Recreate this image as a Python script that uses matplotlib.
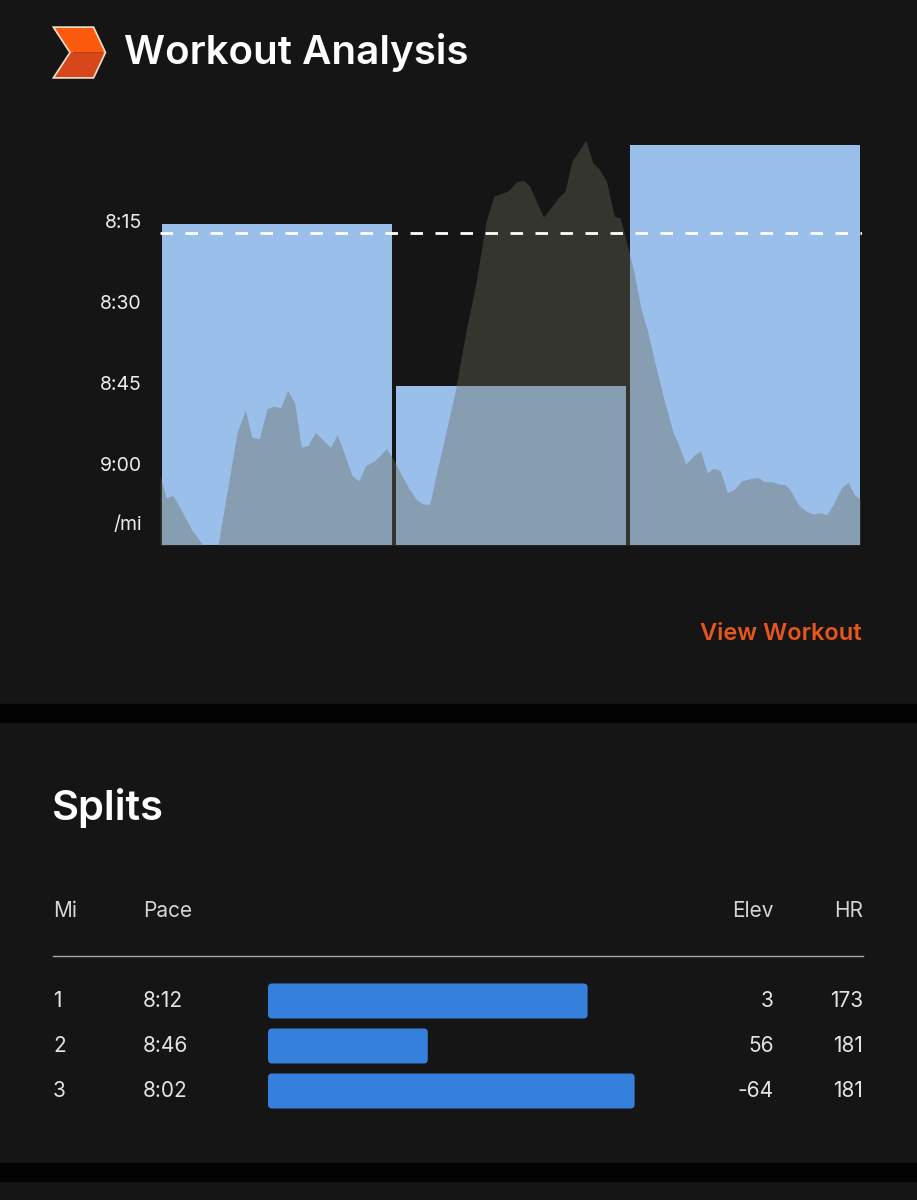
import matplotlib.pyplot as plt
from matplotlib.patches import Polygon, Rectangle, FancyBboxPatch

plt.rcParams['font.family'] = ['Inter', 'DejaVu Sans']

# Datos del gráfico
miles = [1, 2, 3]
chart_pace = [495.6, 525.5, 481]          # segundos por milla (barras del gráfico)
avg_pace = 497.3                           # línea discontinua
pace_ticks = [495, 510, 525, 540]
pace_labels = ["8:15", "8:30", "8:45", "9:00"]

# Perfil de elevación (millas, pies relativos)
elev_dist = [0.0, 0.026, 0.055, 0.085, 0.134, 0.183, 0.248, 0.281, 0.330, 0.365,
             0.392, 0.424, 0.457, 0.487, 0.516, 0.545, 0.575, 0.604, 0.634, 0.663,
             0.692, 0.728, 0.757, 0.791, 0.820, 0.849, 0.879, 0.918, 0.967, 0.996,
             1.026, 1.065, 1.094, 1.124, 1.153, 1.182, 1.222, 1.261, 1.310, 1.349,
             1.394, 1.427, 1.486, 1.525, 1.555, 1.580, 1.614, 1.639, 1.672, 1.702,
             1.731, 1.761, 1.790, 1.820, 1.849, 1.878, 1.908, 1.941, 1.967, 1.996,
             2.025, 2.055, 2.084, 2.114, 2.153, 2.192, 2.212, 2.247, 2.280, 2.310,
             2.339, 2.365, 2.394, 2.424, 2.451, 2.486, 2.525, 2.555, 2.584, 2.614,
             2.643, 2.672, 2.692, 2.731, 2.761, 2.790, 2.819, 2.849, 2.878, 2.913,
             2.941, 2.966, 2.992]
elev_ft = [18.2, 12.4, 12.9, 9.8, 4.1, 0.0, 0.0, 12.0, 29.6, 35.3,
           28.2, 27.8, 35.7, 36.4, 35.9, 40.5, 37.3, 25.6, 26.1, 29.6,
           27.8, 25.6, 28.9, 23.4, 18.2, 16.8, 20.8, 22.1, 25.2, 22.6,
           19.0, 14.7, 12.0, 10.7, 10.7, 19.0, 29.6, 40.1, 56.8, 68.2,
           84.8, 91.4, 92.7, 95.2, 95.5, 94.0, 89.2, 85.9, 88.5, 91.0,
           92.7, 100.6, 103.2, 106.1, 100.2, 98.4, 95.3, 86.1, 85.7, 78.7,
           71.7, 62.0, 55.9, 48.0, 38.3, 29.6, 26.9, 21.2, 23.4, 24.7,
           18.9, 20.1, 19.5, 13.8, 14.4, 16.8, 17.4, 17.7, 16.6, 16.6,
           16.0, 15.8, 14.5, 10.3, 8.9, 8.1, 8.5, 7.9, 10.7, 15.1,
           16.4, 13.3, 12.0]

# Tabla de splits
split_pace = ["8:12", "8:46", "8:02"]
split_pace_sec = [492, 526, 482]
split_elev = [3, 56, -64]
split_hr = [173, 181, 181]
pace_ref = 560   # 9:20, donde la barra tendría longitud cero

BG = "#151515"
W, H = 917, 1200


def fx(px):
    return px / W


def fy(py):
    return 1 - py / H


fig = plt.figure(figsize=(9.17, 12), dpi=100, facecolor=BG)

# Bandas negras separadoras
for top, bot in [(704, 722), (1163, 1181)]:
    fig.patches.append(Rectangle((0, fy(bot)), 1, (bot - top) / H,
                                 transform=fig.transFigure, color="#030303", zorder=0))

# Logo
top_half = [(55, 28), (93, 28), (104.5, 52.5), (71, 52.5)]
bot_half = [(71, 52.5), (104.5, 52.5), (93, 77), (55, 77)]
outline = [(55, 28), (93, 28), (104.5, 52.5), (93, 77), (55, 77), (71, 52.5)]
fig.patches.append(Polygon([(fx(x), fy(y)) for x, y in outline], closed=True,
                           transform=fig.transFigure, facecolor="none",
                           edgecolor="#f6dcc8", lw=2.5, joinstyle="miter"))
fig.patches.append(Polygon([(fx(x), fy(y)) for x, y in top_half], closed=True,
                           transform=fig.transFigure, color="#fc5a0c", lw=0))
fig.patches.append(Polygon([(fx(x), fy(y)) for x, y in bot_half], closed=True,
                           transform=fig.transFigure, color="#d8471c", lw=0))

fig.text(fx(124), fy(53), "Workout Analysis", color="white", fontsize=29,
         fontweight="semibold", va="center", ha="left")

# Gráfico principal
ax = fig.add_axes([fx(160), fy(545), 702 / W, 405 / H])
ax.set_facecolor(BG)
ax.bar([m - 0.5 for m in miles], [555 - p for p in chart_pace], bottom=chart_pace,
       width=0.98, color="#9abfea", zorder=1)
ax.set_xlim(0, 3.0)
ax.set_ylim(555, 480)
ax.set_yticks(pace_ticks + [551])
ax.set_yticklabels(pace_labels + ["/mi"])
ax.tick_params(axis="y", length=0, pad=13, labelsize=14, labelcolor="#ececec")
ax.set_xticks([])
for s in ax.spines.values():
    s.set_visible(False)

ax2 = ax.twinx()
ax2.fill_between(elev_dist, elev_ft, 0, color=(104 / 255, 104 / 255, 92 / 255),
                 alpha=0.39, lw=0)
ax2.set_ylim(0, 106.1)
ax2.set_yticks([])
ax2.plot([0, 3.0], [avg_pace, avg_pace], transform=ax.transData,
         color="white", lw=2, dashes=(4.5, 4.5))
for s in ax2.spines.values():
    s.set_visible(False)

fig.text(fx(862), fy(634), "View Workout", color="#e8561e", fontsize=17,
         fontweight="semibold", ha="right", va="center")

# Splits
fig.text(fx(52), fy(808), "Splits", color="white", fontsize=30,
         fontweight="semibold", va="center", ha="left")

hdr_kw = dict(color="#d6d6d6", fontsize=15, va="center")
fig.text(fx(53), fy(911), "Mi", ha="left", **hdr_kw)
fig.text(fx(143), fy(911), "Pace", ha="left", **hdr_kw)
fig.text(fx(774), fy(911), "Elev", ha="right", **hdr_kw)
fig.text(fx(863), fy(911), "HR", ha="right", **hdr_kw)
fig.add_artist(plt.Line2D([fx(53), fx(863)], [fy(956), fy(956)],
                          color="#a8a8a8", lw=1))

row_y = [1001, 1046, 1091]
for i in range(len(miles)):
    kw = dict(color="#e4e4e4", fontsize=15, va="center")
    fig.text(fx(53), fy(row_y[i]), str(miles[i]), ha="left", **kw)
    fig.text(fx(143), fy(row_y[i]), split_pace[i], ha="left", **kw)
    fig.text(fx(774), fy(row_y[i]), str(split_elev[i]), ha="right", **kw)
    fig.text(fx(863), fy(row_y[i]), str(split_hr[i]), ha="right", **kw)

bax = fig.add_axes([fx(268), fy(1113.5), (862 - 268) / W, 135 / H])
bax.set_axis_off()
xmax = (862 - 268) / 4.7
bax.set_xlim(0, xmax)
bax.set_ylim(2.5, -0.5)
aspect = (1 / 45) / (1 / 4.7)
bh = 35 / 45
for i in range(len(miles)):
    w = pace_ref - split_pace_sec[i]
    bax.add_patch(FancyBboxPatch((0, i - bh / 2), w, bh,
                                 boxstyle="round,pad=0,rounding_size=0.85",
                                 mutation_aspect=aspect, color="#3580dc", lw=0))

fig.savefig("out.png", dpi=100, facecolor=BG)
